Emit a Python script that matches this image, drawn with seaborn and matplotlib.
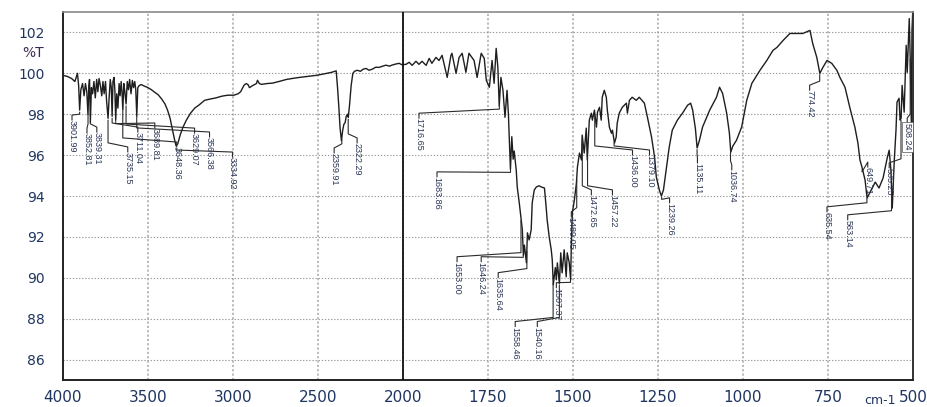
import numpy as np
import seaborn as sns
import matplotlib.pyplot as plt
from matplotlib import font_manager
from matplotlib.ticker import FixedLocator, NullFormatter
import matplotlib.transforms as mtransforms

# ---- spectrum (wavenumber cm-1, %T) ----
wavenumber = [
    4000, 3975, 3950, 3930, 3915, 3908, 3902, 3895, 3885, 3876, 3868, 3860, 3853, 3848, 3844,
    3839, 3833, 3826, 3818, 3810, 3802, 3795, 3788, 3780, 3772, 3765, 3758, 3750, 3744, 3735,
    3728, 3722, 3716, 3711, 3706, 3700, 3695, 3690, 3684, 3677, 3670, 3664, 3658, 3653, 3648,
    3642, 3636, 3629, 3622, 3615, 3608, 3600, 3592, 3585, 3578, 3572, 3566, 3560, 3552, 3540,
    3520, 3500, 3480, 3460, 3440, 3420, 3400, 3385, 3370, 3355, 3345, 3335, 3325, 3310, 3295,
    3275, 3250, 3225, 3200, 3167, 3130, 3100, 3067, 3032, 2995, 2970, 2955, 2935, 2922, 2912,
    2903, 2885, 2862, 2856, 2845, 2833, 2800, 2768, 2730, 2686, 2650, 2610, 2560, 2510, 2460,
    2420, 2393, 2385, 2377, 2370, 2362, 2355, 2348, 2340, 2334, 2326, 2322, 2315, 2305, 2295,
    2285, 2270, 2250, 2235, 2217, 2200, 2182, 2160, 2141, 2120, 2100, 2080, 2065, 2045, 2023,
    2006, 1991, 1982, 1973, 1962, 1953, 1944, 1932, 1923, 1915, 1903, 1894, 1885, 1870, 1859,
    1856, 1844, 1835, 1826, 1815, 1806, 1791, 1782, 1770, 1761, 1755, 1746, 1738, 1732, 1726,
    1721, 1717, 1712, 1706, 1700, 1694, 1690, 1684, 1680, 1676, 1673, 1667, 1664, 1658, 1653,
    1649, 1646, 1643, 1637, 1634, 1629, 1623, 1620, 1614, 1608, 1600, 1593, 1584, 1579, 1576,
    1570, 1564, 1561, 1558, 1552, 1549, 1546, 1540, 1536, 1532, 1526, 1520, 1517, 1511, 1507,
    1505, 1502, 1496, 1490, 1487, 1481, 1475, 1473, 1467, 1461, 1458, 1452, 1446, 1443, 1437,
    1431, 1428, 1422, 1417, 1414, 1408, 1402, 1399, 1393, 1387, 1384, 1378, 1373, 1370, 1364,
    1355, 1343, 1340, 1334, 1326, 1314, 1305, 1290, 1281, 1269, 1260, 1255, 1246, 1240, 1234,
    1226, 1217, 1208, 1193, 1178, 1163, 1154, 1148, 1140, 1135, 1128, 1119, 1098, 1078, 1069,
    1060, 1048, 1040, 1036, 1030, 1019, 1004, 989, 974, 950, 930, 912, 900, 882, 862,
    842, 824, 810, 803, 795, 783, 774, 765, 753, 739, 724, 715, 700, 686, 671,
    662, 656, 650, 641, 635, 623, 611, 600, 588, 576, 570, 565, 561, 555, 550,
    547, 541, 538, 535, 532, 526, 520, 517, 511, 508, 505, 503, 501, 500,
]
transmittance = [
    99.90, 99.85, 99.75, 99.60, 100.00, 99.40, 98.20, 99.20, 99.50, 98.90, 99.50, 99.10, 97.95, 99.40, 99.70,
    97.60, 99.30, 99.00, 99.60, 98.80, 99.70, 99.10, 99.75, 99.40, 98.90, 99.60, 99.00, 99.60, 98.70, 97.80,
    98.90, 99.70, 99.30, 97.90, 99.60, 99.80, 99.20, 97.70, 99.00, 98.30, 99.50, 98.90, 99.60, 99.10, 98.20,
    99.50, 99.10, 98.50, 99.60, 99.20, 99.70, 99.00, 99.65, 99.30, 99.60, 99.20, 97.90, 99.30, 99.40, 99.45,
    99.37, 99.30, 99.20, 99.07, 98.95, 98.75, 98.50, 98.20, 97.80, 97.20, 96.80, 96.45, 96.55, 97.00, 97.35,
    97.70, 98.05, 98.30, 98.45, 98.68, 98.75, 98.80, 98.88, 98.93, 98.93, 99.00, 99.10, 99.42, 99.50, 99.45,
    99.30, 99.40, 99.50, 99.66, 99.50, 99.46, 99.50, 99.52, 99.60, 99.70, 99.75, 99.80, 99.85, 99.90, 99.98,
    100.05, 100.12, 99.30, 98.30, 97.30, 96.70, 97.20, 97.50, 97.60, 97.90, 98.00, 97.85, 98.40, 99.40, 100.00,
    100.10, 100.15, 100.10, 100.20, 100.24, 100.15, 100.20, 100.30, 100.29, 100.35, 100.40, 100.35, 100.40, 100.45, 100.49,
    100.42, 100.44, 100.54, 100.39, 100.59, 100.44, 100.59, 100.39, 100.73, 100.49, 100.78, 100.63, 100.88, 99.80, 100.88,
    100.98, 100.00, 100.78, 100.98, 100.05, 100.98, 100.63, 99.80, 100.98, 100.73, 99.66, 99.32, 100.63, 99.51, 101.22,
    100.29, 98.40, 99.80, 99.17, 97.85, 99.17, 98.00, 95.30, 96.90, 95.80, 96.20, 95.27, 94.44, 93.66, 92.90,
    92.34, 91.10, 91.60, 90.73, 92.20, 91.85, 92.34, 93.66, 94.29, 94.44, 94.50, 94.44, 94.39, 93.46, 92.83,
    92.00, 91.37, 90.88, 89.66, 90.50, 89.90, 90.73, 89.70, 91.22, 90.24, 91.37, 90.05, 91.22, 90.73, 89.90,
    91.51, 93.17, 93.80, 94.63, 95.41, 96.10, 95.76, 96.98, 96.10, 97.32, 95.76, 97.71, 98.05, 97.71, 98.20,
    97.37, 98.10, 98.34, 97.71, 98.83, 99.17, 98.83, 98.20, 97.37, 97.07, 97.22, 96.59, 96.88, 97.56, 98.05,
    98.34, 98.54, 98.05, 98.68, 98.83, 98.68, 98.83, 98.54, 97.85, 96.88, 95.90, 94.93, 94.29, 94.00, 94.29,
    95.27, 96.39, 97.22, 97.71, 98.05, 98.44, 98.54, 98.20, 97.30, 96.35, 96.73, 97.37, 98.20, 98.83, 99.32,
    99.02, 98.05, 97.07, 96.15, 96.44, 96.73, 97.37, 98.68, 99.51, 100.15, 100.63, 101.12, 101.27, 101.61, 101.95,
    101.95, 101.95, 102.05, 102.10, 101.46, 100.78, 100.00, 100.29, 100.63, 100.49, 100.15, 99.80, 99.32, 98.34, 97.37,
    96.59, 95.76, 95.41, 94.78, 93.90, 94.29, 94.68, 94.39, 94.88, 95.85, 96.24, 95.27, 93.41, 95.76, 97.22,
    98.59, 98.78, 97.71, 97.80, 99.41, 98.10, 101.37, 100.05, 102.68, 100.63, 97.60, 102.10, 102.90, 100.50,
]

# peak labels as printed by the instrument software
peak_labels = [
    "3901.99", "3852.81", "3839.31", "3735.15", "3711.04", "3689.81", "3648.36", "3629.07",
    "3566.38", "3334.92", "2359.91", "2322.29", "1716.65", "1683.86", "1653.00", "1646.24",
    "1635.64", "1558.46", "1540.16", "1507.37", "1489.05", "1472.65", "1457.22", "1436.00",
    "1379.10", "1239.26", "1135.11", "1036.74", "774.42", "649.71", "635.54", "563.14",
    "535.25", "508.24",
]

x_major = [4000, 3500, 3000, 2500, 2000, 1750, 1500, 1250, 1000, 750, 500]
y_major = [86, 88, 90, 92, 94, 96, 98, 100, 102]

# ---- layout: where each peak label text sits (x, top of text) ----
label_x = [3947, 3859, 3801, 3619, 3560, 3460, 3331, 3226, 3138, 3003, 2405, 2270,
           1953, 1900, 1841, 1770, 1720, 1670, 1605, 1549, 1505, 1446, 1384, 1325,
           1275, 1216, 1134, 1033, 804, 633, 753, 692, 570, 517]
label_y = [97.71, 97.07, 97.12, 96.15, 97.12, 97.32, 96.39, 97.07, 96.88, 95.90, 96.10, 96.59,
           97.80, 94.93, 90.78, 90.78, 90.00, 87.61, 87.61, 89.51, 92.98, 94.05, 94.05, 96.00,
           96.00, 93.66, 95.61, 95.27, 99.17, 95.41, 93.22, 92.83, 95.37, 97.56]

sns.set_style("white")
names = {f.name for f in font_manager.fontManager.ttflist}
narrow = "Liberation Sans Narrow" if "Liberation Sans Narrow" in names else "Liberation Sans"
plt.rcParams["font.family"] = ["DejaVu Sans"]

tick_color = "#1f3560"
label_color = "#2a3654"

fig = plt.figure(figsize=(9.27, 4.07), dpi=100)
ax = fig.add_axes([63 / 927, 27 / 407, 850 / 927, 368 / 407])

sns.lineplot(x=wavenumber, y=transmittance, sort=False, estimator=None,
             color="#1e1e1e", linewidth=1.0, ax=ax)


# the printout uses twice the scale below 2000 cm-1
def fwd(w):
    w = np.asarray(w, dtype=float)
    return np.where(w < 2000, 2 * w, w + 2000)


def inv(u):
    u = np.asarray(u, dtype=float)
    return np.where(u < 4000, u / 2, u - 2000)


ax.set_xscale("function", functions=(fwd, inv))
ax.set_xlim(4000, 500)
ax.set_ylim(85, 103)

minor_x = list(np.arange(4000, 2000, -500 / 3)) + list(np.arange(2000, 500, -250 / 3))
ax.xaxis.set_major_locator(FixedLocator(x_major))
ax.xaxis.set_minor_locator(FixedLocator(minor_x))
ax.set_xticklabels([str(v) for v in x_major])
ax.yaxis.set_major_locator(FixedLocator(y_major))
ax.yaxis.set_minor_locator(FixedLocator(list(np.arange(85 + 1 / 3, 103, 2 / 3))))
ax.set_yticklabels([str(v) for v in y_major])
ax.xaxis.set_minor_formatter(NullFormatter())

ax.tick_params(axis="x", which="major", direction="out", length=6, width=1.2,
               labelsize=11, labelcolor=tick_color, pad=1, color="#222222")
ax.tick_params(axis="x", which="minor", direction="out", length=3.5, width=1.2, color="#222222")
ax.tick_params(axis="y", which="major", direction="out", length=11, width=1.0,
               labelsize=10, labelcolor=tick_color, pad=2, color="#222222")
ax.tick_params(axis="y", which="minor", direction="out", length=5.5, width=1.0, color="#222222")

ax.grid(True, which="major", axis="y", color="#9a9a9a", linestyle=(0, (1.2, 1.6)), linewidth=0.8)
ax.grid(True, which="major", axis="x", color="#b5b5b5", linestyle=(0, (1.2, 1.2)), linewidth=1.3)
ax.axvline(2000, color="#111111", linewidth=1.3, zorder=3)

for side in ["left", "bottom"]:
    ax.spines[side].set_color("#222222")
    ax.spines[side].set_linewidth(1.4)
ax.spines["right"].set_color("#333333")
ax.spines["right"].set_linewidth(1.4)
ax.spines["top"].set_color("#8a8a8a")
ax.spines["top"].set_linewidth(1.2)

ax.set_xlabel("")
ax.set_ylabel("")

trans = mtransforms.blended_transform_factory(ax.transAxes, ax.transData)
ax.text(-0.022, 101.0, "%T", transform=trans, ha="right", va="center",
        fontsize=10, color="#3a2a55")
fig.text(880 / 927, 0.0, "cm-1", ha="center", va="bottom", fontsize=9, color=tick_color)

# peak labels: short drop from the peak, near-horizontal run, drop to the text
wn_arr = np.array(wavenumber, dtype=float)
t_arr = np.array(transmittance, dtype=float)
for lab, tx, ty in zip(peak_labels, label_x, label_y):
    px = float(lab)
    py = np.interp(px, wn_arr[::-1], t_arr[::-1]) - 0.1
    knee = min(py - 0.1, ty + 0.45)
    ax.plot([px, px, tx, tx], [py, knee, ty + 0.25, ty],
            color="#2b2b2b", linewidth=0.8, zorder=4)
    box = dict(facecolor="white", edgecolor="#555555", pad=0.6, linewidth=0.5) if lab == "508.24" else None
    ax.text(tx, ty, lab, rotation=-90, ha="center", va="top", fontsize=6.5,
            family=[narrow, "DejaVu Sans"], color=label_color, zorder=5, bbox=box)

fig.savefig("out.png", dpi=100)
